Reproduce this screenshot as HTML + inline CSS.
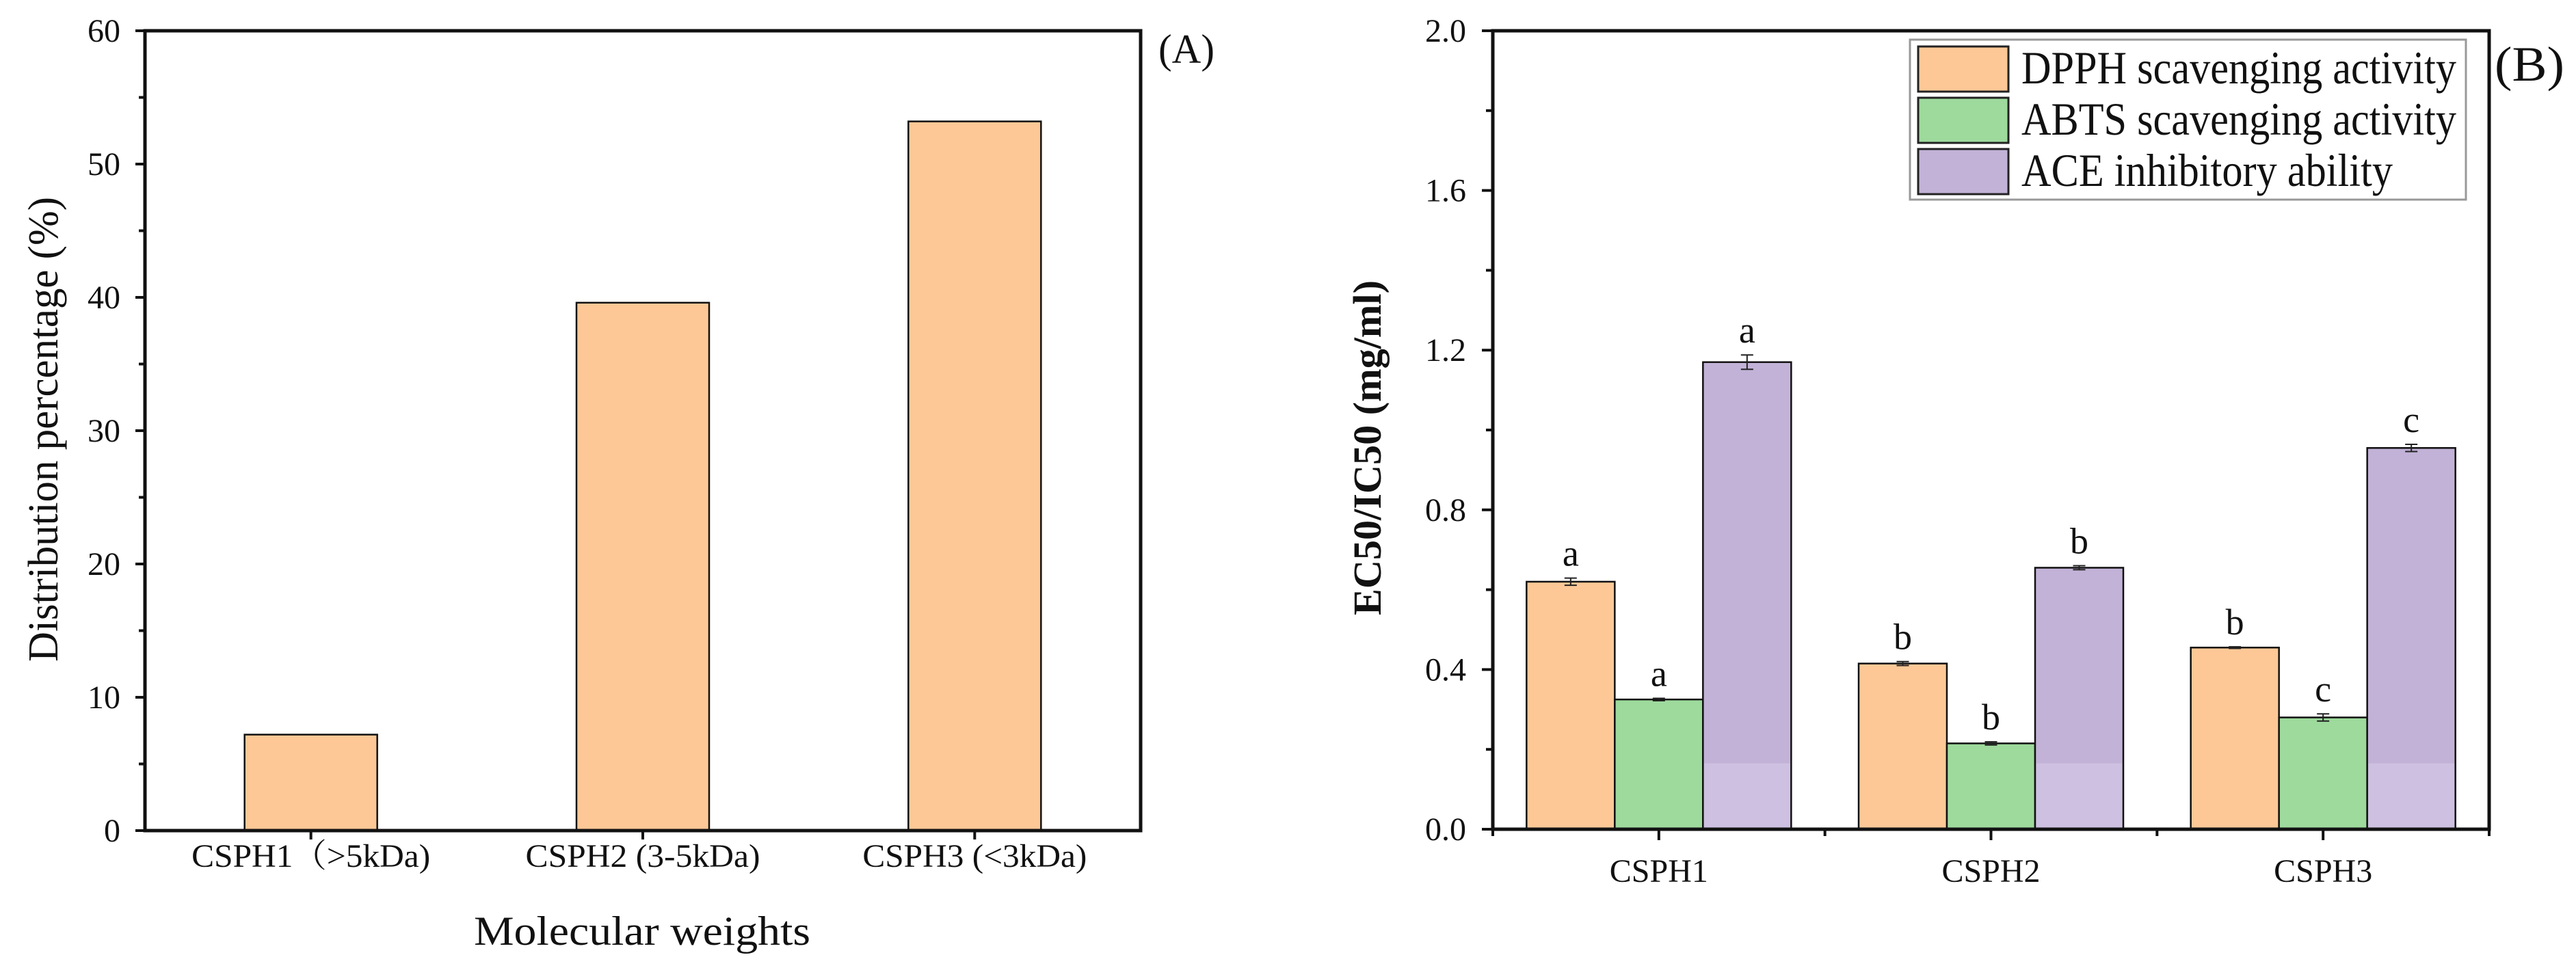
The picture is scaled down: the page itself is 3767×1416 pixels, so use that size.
<!DOCTYPE html>
<html><head><meta charset="utf-8"><style>
html,body{margin:0;padding:0;background:#fff;}
svg{display:block;}
text{font-family:"Liberation Serif","Noto Serif CJK SC",serif;fill:#111;}
</style></head><body>
<svg id="fig" width="3767" height="1416" viewBox="0 0 3767 1416">
  <g id="panelA"></g>
  <g id="panelB"></g>
</svg>
<script>
// Panel A data
const catsA = ["CSPH1（>5kDa)", "CSPH2 (3-5kDa)", "CSPH3 (<3kDa)"];
const valsA = [7.2, 39.6, 53.2];
const ticksA = [0, 10, 20, 30, 40, 50, 60];
// Panel B data
const catsB = ["CSPH1", "CSPH2", "CSPH3"];
const seriesNames = ["DPPH scavenging activity", "ABTS scavenging activity", "ACE inhibitory ability"];
const dpph = [0.62, 0.415, 0.455];
const abts = [0.325, 0.215, 0.28];
const ace = [1.17, 0.655, 0.955];
const dpphErr = [0.009, 0.005, 0.002];
const abtsErr = [0.003, 0.004, 0.009];
const aceErr = [0.018, 0.005, 0.009];
const dpphLet = ["a", "b", "b"];
const abtsLet = ["a", "b", "c"];
const aceLet = ["a", "b", "c"];
const ticksB = [0.0, 0.4, 0.8, 1.2, 1.6, 2.0];

const NS = "http://www.w3.org/2000/svg";
function mk(parent, tag, attrs, txt) {
  const e = document.createElementNS(NS, tag);
  for (const k in attrs) e.setAttribute(k, attrs[k]);
  if (txt !== undefined) e.textContent = txt;
  parent.appendChild(e);
  return e;
}
const colors = ["#FDC896", "#9DDA9C", "#C2B2D7"];

// ---------- Panel A ----------
(function () {
  const g = document.getElementById("panelA");
  const L = 212, R = 1668, T = 45, B = 1215, ymax = 60;
  const y = v => B - v / ymax * (B - T);
  const step = (R - L) / catsA.length;
  const x = i => L + step * (i + 0.5);
  const bw = 194;
  const labLens = [349, 343, 328];
  catsA.forEach((c, i) => {
    const r = mk(g, "rect", {x: x(i) - bw / 2, y: y(valsA[i]), width: bw, height: B - y(valsA[i]), fill: colors[0], stroke: "#111", "stroke-width": 2.5});
    
    
    const t = mk(g, "text", {x: x(i), y: 1268, "font-size": 48, "text-anchor": "middle", textLength: labLens[i], lengthAdjust: "spacingAndGlyphs"}, c);
    
    
    mk(g, "line", {x1: x(i), x2: x(i), y1: B, y2: B + 13, stroke: "#111", "stroke-width": 4});
  });
  for (let v = 0; v <= ymax; v += 5) {
    const major = v % 10 === 0;
    mk(g, "line", {x1: L - (major ? 14 : 9), x2: L, y1: y(v), y2: y(v), stroke: "#111", "stroke-width": 4});
  }
  ticksA.forEach(v => {
    const t = mk(g, "text", {x: 176, y: y(v) + 16, "font-size": 48, "text-anchor": "end"}, String(v));
    
    
  });
  const f = mk(g, "rect", {x: L, y: T, width: R - L, height: B - T, fill: "none", stroke: "#111", "stroke-width": 5});
  
  
  const yl = mk(g, "text", {x: 0, y: 0, "font-size": 62, "text-anchor": "middle", transform: "translate(84,628) rotate(-90)", textLength: 680, lengthAdjust: "spacingAndGlyphs"}, "Distribution percentage (%)");
  
  
  const xl = mk(g, "text", {x: 939, y: 1382, "font-size": 60, "text-anchor": "middle", textLength: 492, lengthAdjust: "spacingAndGlyphs"}, "Molecular weights");
  
  
  const pl = mk(g, "text", {x: 1694, y: 92, "font-size": 60, textLength: 82, lengthAdjust: "spacingAndGlyphs"}, "(A)");
  
  
})();

// ---------- Panel B ----------
(function () {
  const g = document.getElementById("panelB");
  const L = 2183, R = 3640, T = 45, B = 1213, ymax = 2.0;
  const y = v => B - v / ymax * (B - T);
  const step = (R - L) / catsB.length;
  const cx = i => L + step * (i + 0.5);
  const bw = 129;
  const series = [dpph, abts, ace];
  const errs = [dpphErr, abtsErr, aceErr];
  const lets = [dpphLet, abtsLet, aceLet];
  catsB.forEach((c, i) => {
    series.forEach((s, j) => {
      const x0 = cx(i) + (j - 1.5) * bw;
      const r = mk(g, "rect", {x: x0, y: y(s[i]), width: bw, height: B - y(s[i]), fill: colors[j], stroke: "#111", "stroke-width": 2.5});
      
      
      if (j === 2) {
        mk(g, "rect", {x: x0 + 1.5, y: y(0.165), width: bw - 3, height: B - y(0.165) - 1.5, fill: "#CDC0E0"});
      }
      const xm = x0 + bw / 2, e = errs[j][i];
      mk(g, "line", {x1: xm, x2: xm, y1: y(s[i] + e), y2: y(s[i] - e), stroke: "#222", "stroke-width": 2});
      mk(g, "line", {x1: xm - 9, x2: xm + 9, y1: y(s[i] + e), y2: y(s[i] + e), stroke: "#222", "stroke-width": 2});
      mk(g, "line", {x1: xm - 9, x2: xm + 9, y1: y(s[i] - e), y2: y(s[i] - e), stroke: "#222", "stroke-width": 2});
      const lt = mk(g, "text", {x: xm, y: y(s[i] + e) - 18, "font-size": 54, "text-anchor": "middle"}, lets[j][i]);
      
      
    });
    const t = mk(g, "text", {x: cx(i), y: 1290, "font-size": 48, "text-anchor": "middle"}, c);
    
    
    mk(g, "line", {x1: cx(i), x2: cx(i), y1: B, y2: B + 16, stroke: "#111", "stroke-width": 4});
  });
  for (let k = 0; k <= catsB.length; k++) {
    const xx = L + step * k;
    mk(g, "line", {x1: xx, x2: xx, y1: B, y2: B + 10, stroke: "#111", "stroke-width": 4});
  }
  for (let k = 0; k <= 10; k++) {
    const v = k * 0.2, major = k % 2 === 0;
    mk(g, "line", {x1: L - (major ? 16 : 10), x2: L, y1: y(v), y2: y(v), stroke: "#111", "stroke-width": 4});
  }
  ticksB.forEach(v => {
    const t = mk(g, "text", {x: 2144, y: y(v) + 16, "font-size": 48, "text-anchor": "end"}, v.toFixed(1));
    
    
  });
  const f = mk(g, "rect", {x: L, y: T, width: R - L, height: B - T, fill: "none", stroke: "#111", "stroke-width": 5});
  
  
  // legend
  const lg = mk(g, "g", {});
  
  
  mk(lg, "rect", {x: 2793, y: 58, width: 813, height: 234, fill: "#fff", stroke: "#999", "stroke-width": 3});
  const rowsY = [68, 143, 218];
  seriesNames.forEach((n, j) => {
    const e = mk(lg, "g", {});
    
    
    mk(e, "rect", {x: 2805, y: rowsY[j], width: 132, height: 66, fill: colors[j], stroke: "#222", "stroke-width": 3});
    const lens = [636, 636, 543];
    mk(e, "text", {x: 2956, y: rowsY[j] + 54, "font-size": 68, textLength: lens[j], lengthAdjust: "spacingAndGlyphs"}, n);
  });
  const yl = mk(g, "text", {x: 0, y: 0, "font-size": 58, "font-weight": "bold", "text-anchor": "middle", transform: "translate(2019,655) rotate(-90)", textLength: 490, lengthAdjust: "spacingAndGlyphs"}, "EC50/IC50 (mg/ml)");
  
  
  const pl = mk(g, "text", {x: 3648, y: 118, "font-size": 72, textLength: 102, lengthAdjust: "spacingAndGlyphs"}, "(B)");
  
  
})();
</script>
</body></html>
